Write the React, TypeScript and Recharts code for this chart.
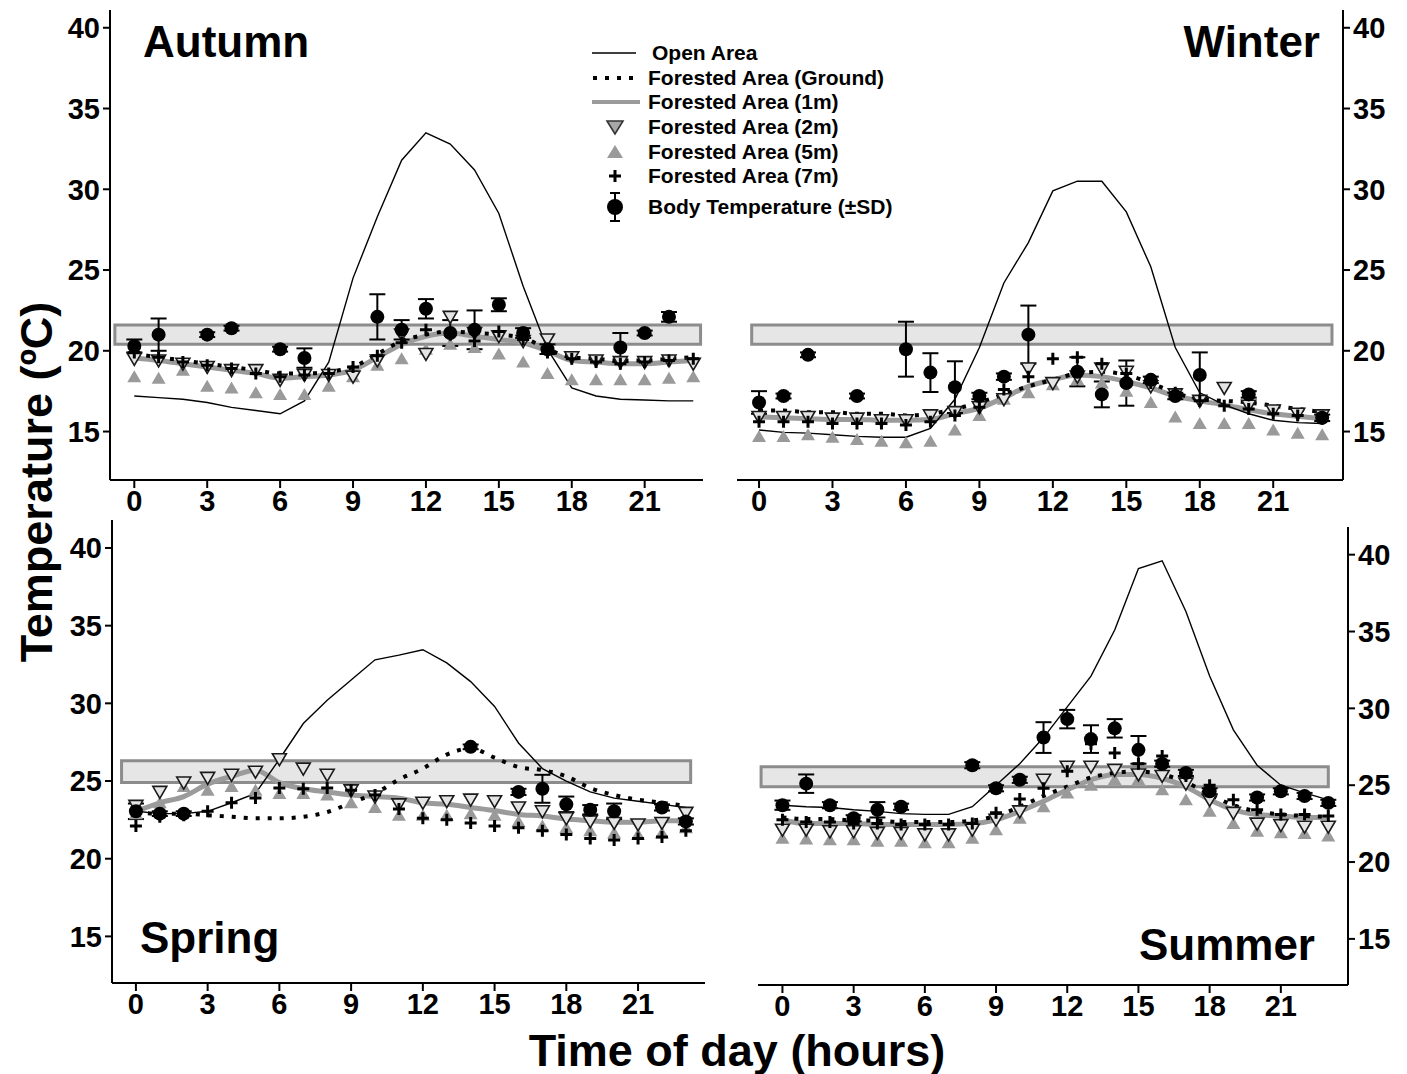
import React from "react";
import { ComposedChart, Line, Scatter, XAxis, YAxis, ReferenceArea, ErrorBar } from "recharts";

// hours of the day
const hours = [0, 1, 2, 3, 4, 5, 6, 7, 8, 9, 10, 11, 12, 13, 14, 15, 16, 17, 18, 19, 20, 21, 22, 23];
const hourTicks = [0, 3, 6, 9, 12, 15, 18, 21];
const tempTicks = [15, 20, 25, 30, 35, 40];

// Autumn
const autumnOpen = [17.2, 17.1, 17.0, 16.8, 16.5, 16.3, 16.1, 16.9, 19.3, 24.5, 28.3, 31.8, 33.5, 32.8, 31.2, 28.5, 24.0, 20.1, 17.7, 17.2, 17.0, 16.95, 16.9, 16.9];
const autumnGround = [19.8, 19.6, 19.4, 19.2, 19.0, 18.8, 18.6, 18.6, 18.7, 19.0, 19.8, 20.6, 21.0, 21.2, 21.1, 21.0, 20.8, 20.1, 19.6, 19.5, 19.4, 19.4, 19.5, 19.6];
const autumn1m = [19.55, 19.4, 19.2, 19.0, 18.8, 18.6, 18.3, 18.4, 18.5, 18.8, 19.6, 20.4, 20.9, 21.1, 20.9, 20.7, 20.5, 20.0, 19.4, 19.3, 19.2, 19.2, 19.3, 19.4];
const autumn2m = [19.5, 19.4, 19.2, 19.0, 18.8, 18.8, 18.2, 18.5, 18.5, 18.4, 19.4, 21.0, 19.8, 22.1, 21.1, 20.9, 20.6, 20.7, 19.6, 19.4, 19.3, 19.3, 19.4, 19.2];
const autumn5m = [18.4, 18.3, 18.8, 17.8, 17.7, 17.4, 17.3, 17.3, 17.8, 18.4, 19.1, 19.5, 20.1, 20.4, 20.2, 19.8, 19.3, 18.6, 18.2, 18.2, 18.2, 18.2, 18.3, 18.4];
const autumn7m = [19.9, 19.6, 19.3, 19.1, 18.9, 18.6, 18.4, 18.5, 18.6, 19.0, 19.7, 20.5, 21.3, 21.0, 20.6, 21.2, 20.7, 19.9, 19.5, 19.3, 19.2, 19.3, 19.4, 19.5];
const autumnBody = [20.3, 21.0, null, 21.0, 21.4, null, 20.1, 19.55, null, null, 22.1, 21.3, 22.6, 21.1, 21.3, 22.85, 21.1, 20.1, null, null, 20.2, 21.1, 22.1, null];
const autumnSd = [0.4, 1.0, null, 0.15, 0.15, null, 0.15, 0.6, null, null, 1.4, 0.6, 0.6, 0.8, 1.2, 0.4, 0.3, 0.3, null, null, 0.9, 0.15, 0.3, null];

// Winter
const winterOpen = [15.1, 14.95, 14.9, 14.8, 14.7, 14.65, 14.65, 15.2, 17.0, 20.2, 24.2, 26.7, 29.9, 30.5, 30.5, 28.6, 25.2, 20.2, 17.4, 16.65, 16.1, 15.7, 15.55, 15.5];
const winterGround = [16.3, 16.3, 16.2, 16.2, 16.1, 16.1, 16.0, 16.1, 16.4, 16.8, 17.3, 17.8, 18.2, 18.6, 18.7, 18.5, 18.0, 17.4, 17.0, 16.9, 16.8, 16.6, 16.4, 16.2];
const winter1m = [15.9, 15.85, 15.8, 15.75, 15.75, 15.7, 15.7, 15.75, 16.1, 16.45, 17.1, 17.8, 18.2, 18.5, 18.4, 18.1, 17.7, 17.2, 16.9, 16.65, 16.35, 16.1, 15.95, 15.8];
const winter2m = [15.9, 15.9, 15.9, 15.8, 15.8, 15.7, 15.7, 16.0, 16.2, 16.5, 17.0, 18.9, 18.0, 18.4, 18.9, 18.7, 17.8, 17.3, 16.9, 17.7, 16.6, 16.3, 16.1, 16.0];
const winter5m = [14.7, 14.7, 14.8, 14.65, 14.5, 14.4, 14.3, 14.4, 15.1, 16.0, 17.0, 17.4, 17.9, 18.2, 18.0, 17.5, 16.8, 15.9, 15.5, 15.5, 15.5, 15.1, 14.9, 14.8];
const winter7m = [15.6, 15.6, 15.6, 15.5, 15.5, 15.5, 15.4, 15.6, 16.0, 16.5, 17.6, 18.4, 19.5, 19.6, 19.2, 18.6, 18.0, 17.4, 16.9, 16.6, 16.4, 16.1, 16.0, 15.8];
const winterBody = [16.8, 17.2, 19.75, null, 17.2, null, 20.1, 18.65, 17.75, 17.2, 18.4, 21.0, null, 18.7, 17.3, 18.0, 18.2, 17.2, 18.5, null, 17.3, null, null, 15.85];
const winterSd = [0.7, 0.15, 0.15, null, 0.15, null, 1.7, 1.2, 1.6, 0.2, 0.2, 1.8, null, 0.9, 0.8, 1.4, 0.2, 0.2, 1.4, null, 0.2, null, null, 0.2];

// Spring
const springOpen = [23.05, 22.9, 22.9, 23.05, 23.6, 24.2, 26.4, 28.7, 30.2, 31.5, 32.8, 33.1, 33.45, 32.6, 31.4, 29.8, 27.45, 25.8, 25.0, 24.3, 23.9, 23.7, 23.5, 23.3];
const springGround = [23.0, 22.9, 22.9, 22.8, 22.7, 22.6, 22.6, 22.7, 23.0, 23.6, 24.2, 25.1, 25.8, 26.7, 27.1, 26.5, 25.9, 25.7, 25.3, 24.55, 24.1, 23.8, 23.6, 23.4];
const spring1m = [23.05, 23.6, 24.0, 24.8, 25.3, 25.7, 24.9, 24.5, 24.3, 24.1, 24.0, 23.9, 23.6, 23.5, 23.3, 23.1, 22.85, 22.75, 22.55, 22.45, 22.35, 22.35, 22.45, 22.45];
const spring2m = [23.4, 24.3, 24.9, 25.2, 25.4, 25.6, 26.4, 25.8, 25.4, 24.4, 24.0, 23.5, 23.6, 23.7, 23.8, 23.7, 23.3, 23.05, 22.6, 22.4, 22.3, 22.2, 22.3, 22.95];
const spring5m = [22.9, 23.6, 24.65, 24.4, 24.65, 24.4, 24.2, 24.2, 24.1, 23.6, 23.3, 22.8, 22.8, 22.8, 22.9, 22.8, 22.4, 22.1, 22.0, 21.8, 21.65, 21.55, 21.65, 22.0];
const spring7m = [22.1, 22.7, 22.8, 23.05, 23.6, 23.9, 24.55, 24.5, 24.55, 24.4, 24.1, 23.2, 22.6, 22.5, 22.3, 22.1, 22.0, 21.8, 21.55, 21.3, 21.2, 21.3, 21.4, 21.8];
const springBody = [23.05, 22.9, 22.9, null, null, null, null, null, null, null, null, null, null, null, 27.2, null, 24.3, 24.5, 23.5, 23.15, 23.05, null, 23.3, 22.4];
const springSd = [0.5, 0.15, 0.15, null, null, null, null, null, null, null, null, null, null, null, 0.15, null, 0.2, 0.9, 0.5, 0.3, 0.5, null, 0.2, 0.2];

// Summer
const summerOpen = [23.7, 23.6, 23.55, 23.4, 23.3, 23.15, 23.1, 23.1, 23.6, 25.0, 26.4, 28.1, 30.1, 32.1, 35.1, 39.1, 39.6, 36.3, 32.1, 28.6, 26.3, 25.0, 24.5, 24.05];
const summerGround = [22.9, 22.8, 22.8, 22.7, 22.7, 22.6, 22.6, 22.6, 22.7, 23.0, 23.6, 24.3, 24.9, 25.5, 25.8, 25.9, 25.7, 25.2, 24.4, 23.7, 23.3, 23.1, 23.0, 22.95];
const summer1m = [22.75, 22.5, 22.5, 22.5, 22.45, 22.45, 22.45, 22.45, 22.5, 22.75, 23.3, 23.95, 24.7, 25.35, 25.7, 25.7, 25.45, 24.9, 24.05, 23.4, 23.1, 23.0, 22.9, 22.9];
const summer2m = [22.1, 22.1, 22.0, 22.0, 21.9, 21.9, 21.8, 21.8, 22.1, 22.75, 23.3, 25.35, 26.2, 26.2, 26.0, 25.7, 25.6, 25.1, 24.05, 23.2, 22.5, 22.4, 22.3, 22.3];
const summer5m = [21.55, 21.5, 21.45, 21.45, 21.35, 21.35, 21.25, 21.25, 21.55, 22.1, 22.85, 23.6, 24.5, 25.0, 25.35, 25.35, 24.7, 24.05, 23.3, 22.5, 22.0, 21.9, 21.85, 21.7];
const summer7m = [22.75, 22.6, 22.6, 22.5, 22.5, 22.45, 22.45, 22.45, 22.5, 23.2, 24.1, 24.8, 25.9, 27.7, 27.1, 26.4, 26.9, 25.6, 25.0, 24.05, 23.4, 23.1, 23.1, 23.0];
const summerBody = [23.7, 25.1, 23.7, 22.85, 23.4, 23.6, null, null, 26.3, 24.8, 25.35, 28.1, 29.3, 28.0, 28.7, 27.3, 26.4, 25.8, 24.6, null, 24.2, 24.6, 24.3, 23.85];
const summerSd = [0.3, 0.6, 0.2, 0.2, 0.5, 0.2, null, null, 0.2, 0.2, 0.2, 1.0, 0.6, 0.9, 0.6, 0.9, 0.2, 0.2, 0.2, null, 0.2, 0.2, 0.2, 0.2];

const FONT = '"Liberation Sans", Arial, sans-serif';

function buildRows(open: number[], ground: number[], m1: number[], m2: number[], m5: number[], m7: number[], body: (number | null)[], sd: (number | null)[]) {
    return hours.map((hour, i) => ({
        hour,
        open: open[i],
        ground: ground[i],
        m1: m1[i],
        m2: m2[i],
        m5: m5[i],
        m7: m7[i],
        body: body[i],
        sd: sd[i],
    }));
}

const DownTri = (p: any) =>
    p.cx == null ? null : (
        <path d={`M${p.cx - 7},${p.cy - 5.5}L${p.cx + 7},${p.cy - 5.5}L${p.cx},${p.cy + 6.5}Z`} fill="#e4e4e4" stroke="#1a1a1a" strokeWidth={1.6} />
    );
const UpTri = (p: any) =>
    p.cx == null ? null : <path d={`M${p.cx - 7},${p.cy + 5.5}L${p.cx + 7},${p.cy + 5.5}L${p.cx},${p.cy - 6.5}Z`} fill="#9a9a9a" />;
const Plus = (p: any) =>
    p.cx == null ? null : (
        <path d={`M${p.cx - 6},${p.cy}H${p.cx + 6}M${p.cx},${p.cy - 6}V${p.cy + 6}`} stroke="#000" strokeWidth={3} />
    );
const BodyDot = (p: any) => (p.cx == null ? null : <circle cx={p.cx} cy={p.cy} r={7} fill="#000" />);

const tickStyle = { fill: "#000", fontSize: 29, fontWeight: 700, fontFamily: FONT };

type PanelProps = {
    rows: ReturnType<typeof buildRows>;
    left: number;
    top: number;
    width: number;
    height: number;
    margin: { top: number; right: number; bottom: number; left: number };
    side: "left" | "right";
    yWidth: number;
    yDomain: [number, number];
    xDomain: [number, number];
    band: { x1: number; x2: number; y1: number; y2: number };
};

function Panel({ rows, left, top, width, height, margin, side, yWidth, yDomain, xDomain, band }: PanelProps) {
    const bodyRows = rows.filter((r) => r.body != null);
    return (
        <div style={{ position: "absolute", left, top }}>
            <ComposedChart width={width} height={height} data={rows} margin={margin}>
                <XAxis
                    dataKey="hour"
                    type="number"
                    domain={xDomain}
                    ticks={hourTicks}
                    interval={0}
                    allowDataOverflow
                    height={40}
                    axisLine={{ stroke: "#000", strokeWidth: 2 }}
                    tickLine={{ stroke: "#000", strokeWidth: 2 }}
                    tickSize={8}
                    tickMargin={2}
                    tick={tickStyle}
                />
                <YAxis
                    type="number"
                    domain={yDomain}
                    ticks={tempTicks}
                    interval={0}
                    allowDataOverflow
                    orientation={side}
                    width={yWidth}
                    axisLine={{ stroke: "#000", strokeWidth: 2 }}
                    tickLine={{ stroke: "#000", strokeWidth: 2 }}
                    tickSize={7}
                    tickMargin={3}
                    tick={tickStyle}
                />
                <ReferenceArea
                    x1={band.x1}
                    x2={band.x2}
                    y1={band.y1}
                    y2={band.y2}
                    fill="#e6e6e6"
                    fillOpacity={1}
                    stroke="#8c8c8c"
                    strokeWidth={3}
                    ifOverflow="visible"
                />
                <Line dataKey="m1" type="monotone" stroke="#9b9b9b" strokeWidth={5} dot={false} activeDot={false} isAnimationActive={false} />
                <Line dataKey="ground" type="monotone" stroke="#000" strokeWidth={4} strokeDasharray="4 8" dot={false} activeDot={false} isAnimationActive={false} />
                <Line dataKey="open" type="linear" stroke="#000" strokeWidth={1.4} dot={false} activeDot={false} isAnimationActive={false} />
                <Scatter dataKey="m5" shape={UpTri} isAnimationActive={false} />
                <Scatter dataKey="m2" shape={DownTri} isAnimationActive={false} />
                <Scatter dataKey="m7" shape={Plus} isAnimationActive={false} />
                <Scatter data={bodyRows} dataKey="body" shape={BodyDot} isAnimationActive={false}>
                    <ErrorBar dataKey="sd" direction="y" width={8} stroke="#000" strokeWidth={2} isAnimationActive={false} />
                </Scatter>
            </ComposedChart>
        </div>
    );
}

function ChartLegend() {
    const rows = [
        "Open Area",
        "Forested Area (Ground)",
        "Forested Area (1m)",
        "Forested Area (2m)",
        "Forested Area (5m)",
        "Forested Area (7m)",
        "Body Temperature (\u00B1SD)",
    ];
    const ys = [53, 78, 102, 127, 152, 176, 207];
    const sx = 615;
    return (
        <svg style={{ position: "absolute", left: 0, top: 0 }} width={1407} height={1074}>
            <line x1={592} x2={636} y1={ys[0]} y2={ys[0]} stroke="#000" strokeWidth={1.5} />
            <line x1={593} x2={640} y1={ys[1]} y2={ys[1]} stroke="#000" strokeWidth={4} strokeDasharray="4 8" />
            <line x1={592} x2={640} y1={ys[2]} y2={ys[2]} stroke="#9b9b9b" strokeWidth={4} />
            <path d={`M${sx - 8},${ys[3] - 6}L${sx + 8},${ys[3] - 6}L${sx},${ys[3] + 7}Z`} fill="#a8a8a8" stroke="#333" strokeWidth={1.6} />
            <path d={`M${sx - 8},${ys[4] + 6}L${sx + 8},${ys[4] + 6}L${sx},${ys[4] - 7}Z`} fill="#9a9a9a" />
            <path d={`M${sx - 6},${ys[5]}H${sx + 6}M${sx},${ys[5] - 6}V${ys[5] + 6}`} stroke="#000" strokeWidth={3} />
            <path d={`M${sx - 5},${ys[6] - 14}H${sx + 5}M${sx},${ys[6] - 14}V${ys[6] + 14}M${sx - 5},${ys[6] + 14}H${sx + 5}`} stroke="#000" strokeWidth={2} />
            <circle cx={sx} cy={ys[6]} r={8} fill="#000" />
            {rows.map((t, i) => (
                <text key={t} x={i === 0 ? 652 : 648} y={ys[i] + 7} fontSize={21} fontWeight={700} fontFamily={FONT} fill="#000">
                    {t}
                </text>
            ))}
        </svg>
    );
}

const autumnRows = buildRows(autumnOpen, autumnGround, autumn1m, autumn2m, autumn5m, autumn7m, autumnBody, autumnSd);
const winterRows = buildRows(winterOpen, winterGround, winter1m, winter2m, winter5m, winter7m, winterBody, winterSd);
const springRows = buildRows(springOpen, springGround, spring1m, spring2m, spring5m, spring7m, springBody, springSd);
const summerRows = buildRows(summerOpen, summerGround, summer1m, summer2m, summer5m, summer7m, summerBody, summerSd);

const titleStyle: React.CSSProperties = {
    position: "absolute",
    fontFamily: FONT,
    fontWeight: 700,
    fontSize: 44,
    lineHeight: 1,
    color: "#000",
    whiteSpace: "nowrap",
};

export default function App() {
    return (
        <div style={{ position: "absolute", left: 0, top: 0, width: 1407, height: 1074, background: "#fff", overflow: "hidden" }}>
            <Panel
                rows={autumnRows}
                left={0}
                top={0}
                width={720}
                height={530}
                margin={{ top: 10, right: 17, bottom: 10, left: 50 }}
                side="left"
                yWidth={60}
                yDomain={[12, 41.1]}
                xDomain={[-1, 23.4]}
                band={{ x1: -0.8, x2: 23.3, y1: 20.4, y2: 21.6 }}
            />
            <Panel
                rows={winterRows}
                left={720}
                top={0}
                width={687}
                height={530}
                margin={{ top: 10, right: 4, bottom: 10, left: 17 }}
                side="right"
                yWidth={60}
                yDomain={[12, 41.1]}
                xDomain={[-0.9, 23.85]}
                band={{ x1: -0.3, x2: 23.4, y1: 20.4, y2: 21.6 }}
            />
            <Panel
                rows={springRows}
                left={0}
                top={500}
                width={720}
                height={574}
                margin={{ top: 20, right: 15, bottom: 51, left: 52 }}
                side="left"
                yWidth={60}
                yDomain={[12, 41.8]}
                xDomain={[-1, 23.8]}
                band={{ x1: -0.6, x2: 23.2, y1: 24.9, y2: 26.3 }}
            />
            <Panel
                rows={summerRows}
                left={720}
                top={500}
                width={687}
                height={574}
                margin={{ top: 27, right: 4, bottom: 49, left: 38 }}
                side="right"
                yWidth={55}
                yDomain={[12, 41.8]}
                xDomain={[-1.03, 23.83]}
                band={{ x1: -0.9, x2: 23.0, y1: 24.9, y2: 26.2 }}
            />
            <ChartLegend />
            <div style={{ ...titleStyle, left: 143, top: 20 }}>Autumn</div>
            <div style={{ ...titleStyle, right: 87, top: 20 }}>Winter</div>
            <div style={{ ...titleStyle, left: 140, top: 916 }}>Spring</div>
            <div style={{ ...titleStyle, right: 92, top: 923 }}>Summer</div>
            <div
                style={{
                    ...titleStyle,
                    fontSize: 45,
                    left: 36,
                    top: 482,
                    transform: "translate(-50%, -50%) rotate(-90deg)",
                }}
            >
                Temperature (ºC)
            </div>
            <div style={{ ...titleStyle, fontSize: 45, left: 737, top: 1050, transform: "translate(-50%, -50%)" }}>
                Time of day (hours)
            </div>
        </div>
    );
}
